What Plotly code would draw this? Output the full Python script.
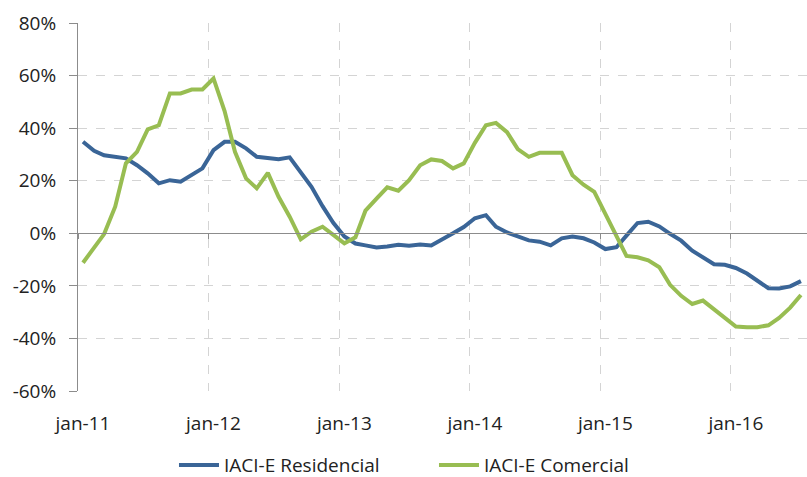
import pandas as pd
import plotly.graph_objects as go

# ---- data (percent, monthly from jan-2011) ----
months = pd.date_range("2011-01-01", periods=67, freq="MS") + pd.Timedelta(days=14)

residencial = [34.8, 31.4, 29.7, 29.1, 28.5, 25.9, 22.8, 19.0, 20.2, 19.6, 22.1, 24.7, 31.6,
               34.8, 34.8, 32.3, 29.1, 28.5, 28.2, 28.9,
               23.4, 17.7, 10.3, 4.0, -1.2, -3.9, -4.6,
               -5.4, -5.0, -4.4, -4.7, -4.3, -4.6, -2.5,
               0.0, 2.4, 5.7, 6.9, 2.5, 0.3, -1.3,
               -2.7, -3.2, -4.6, -1.9, -1.2, -1.9, -3.5,
               -6.0, -5.3, -0.9, 3.9, 4.4, 2.6, -0.2,
               -2.8, -6.6, -9.1, -11.8, -12.0, -13.2, -15.3,
               -18.2, -20.9, -21.0, -20.2, -18.2]

comercial = [-11.2, -5.7, -0.3, 10.1, 26.6, 31.0, 39.5, 41.1, 53.2, 53.2, 54.7, 54.7, 58.9,
             46.5, 31.0, 20.9, 17.1, 23.0, 13.9, 6.3,
             -2.3, 0.6, 2.5, -0.6, -3.8, -1.5, 8.6,
             13.2, 17.5, 16.2, 20.2, 25.9, 28.1, 27.5,
             24.7, 26.6, 34.4, 41.1, 42.0, 38.5, 32.0,
             29.1, 30.6, 30.6, 30.6, 22.1, 18.5, 15.8,
             7.6, -0.6, -8.6, -9.1, -10.3, -12.9, -19.6,
             -23.8, -26.9, -25.6, -28.9, -31.9, -35.5, -35.7,
             -35.7, -35.0, -32.2, -28.3, -23.5]

series_names = ["IACI-E Residencial", "IACI-E Comercial"]
series_colors = ["#3A6597", "#98BD52"]

y_tickvals = [-60, -40, -20, 0, 20, 40, 60, 80]
y_ticktext = ["-60%", "-40%", "-20%", "0%", "20%", "40%", "60%", "80%"]

x_tickvals = ["2011-01-01", "2012-01-01", "2013-01-01", "2014-01-01", "2015-01-01", "2016-01-01"]
x_ticktext = ["jan-11", "jan-12", "jan-13", "jan-14", "jan-15", "jan-16"]
x_range = ["2011-01-01", "2016-08-01"]

FONT = "Open Sans, Lato, sans-serif"
TXT = "#222222"

fig = go.Figure()
for name, vals, col in zip(series_names, [residencial, comercial], series_colors):
    fig.add_trace(go.Scatter(x=months, y=vals, name=name, mode="lines",
                             line=dict(color=col, width=4)))

# overlay axis drawn at y=0, carrying the small year tick marks
fig.add_trace(go.Scatter(x=[], y=[], xaxis="x2", showlegend=False, hoverinfo="skip"))

zero_frac = (0 - (-60)) / 140.0

fig.update_layout(
    width=807, height=477,
    margin=dict(l=78, r=0, t=23, b=86),
    paper_bgcolor="white", plot_bgcolor="white",
    font=dict(family=FONT, size=19, color=TXT),
    xaxis=dict(
        type="date", range=x_range,
        tickvals=x_tickvals, ticktext=x_ticktext,
        showgrid=True, gridcolor="#D4D4D4", griddash="dash", gridwidth=1,
        showline=False, zeroline=False, ticks="",
        ticklabelshift=5, ticklabelstandoff=19,
        tickfont=dict(family=FONT, size=19, color=TXT),
    ),
    xaxis2=dict(
        type="date", overlaying="x", matches="x", anchor="free", position=zero_frac,
        tickvals=x_tickvals, showticklabels=False,
        showgrid=False, zeroline=False,
        showline=True, linecolor="#8C8C8C", linewidth=1,
        ticks="outside", ticklen=5, tickcolor="#8C8C8C", tickwidth=1,
    ),
    yaxis=dict(
        range=[-60, 80], tickvals=y_tickvals, ticktext=y_ticktext,
        showgrid=True, gridcolor="#D4D4D4", griddash="dash", gridwidth=1,
        zeroline=False,
        showline=True, linecolor="#8C8C8C", linewidth=1,
        ticks="outside", ticklen=8, tickcolor="#8C8C8C", tickwidth=1,
        ticklabelstandoff=9,
        tickfont=dict(family=FONT, size=19, color=TXT),
    ),
    legend=dict(
        orientation="h",
        xref="container", x=0.2156, xanchor="left",
        yref="container", y=0.025, yanchor="middle",
        font=dict(family=FONT, size=19, color=TXT),
        entrywidth=205, entrywidthmode="pixels",
        bgcolor="rgba(0,0,0,0)", itemwidth=40,
    ),
    showlegend=True,
)

fig.write_html("out.html", config={"displayModeBar": False},
               post_script="document.body.style.margin='0';")
